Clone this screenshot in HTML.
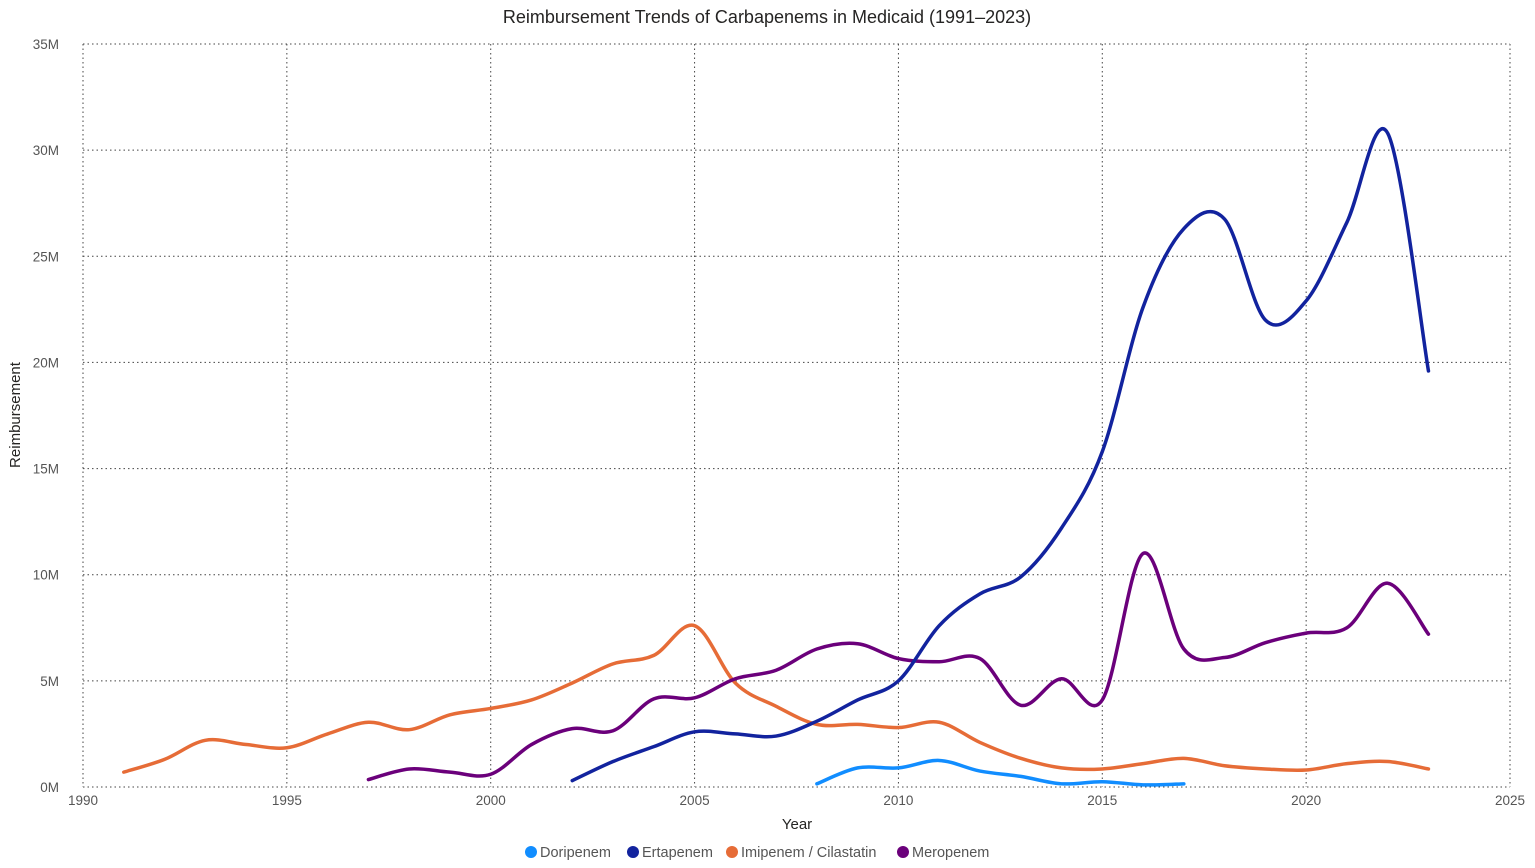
<!DOCTYPE html>
<html><head><meta charset="utf-8"><style>
html,body{margin:0;padding:0;background:#fff;}
svg{display:block;font-family:"Liberation Sans",sans-serif;}
</style></head><body>
<svg id="chart" width="1535" height="868">
<text x="767" y="23" text-anchor="middle" font-size="18" fill="#252423">Reimbursement Trends of Carbapenems in Medicaid (1991–2023)</text>
<g id="grid"></g><g id="ticks"></g><g id="lines"></g>
<text x="797" y="829" text-anchor="middle" font-size="15" fill="#252423">Year</text>
<text transform="translate(20,415) rotate(-90)" text-anchor="middle" font-size="15" fill="#252423">Reimbursement</text>
<g id="legend"></g>
</svg>
<script>
const seriesNames=["Doripenem","Ertapenem","Imipenem / Cilastatin","Meropenem"];
const seriesColors=["#118DFF","#12239E","#E66C37","#6B007B"];
const doriYears=[2008,2009,2010,2011,2012,2013,2014,2015,2016,2017];
const doriValues=[0.15,0.9,0.9,1.25,0.75,0.5,0.15,0.25,0.1,0.15];
const ertaYears=[2002,2003,2004,2005,2006,2007,2008,2009,2010,2011,2012,2013,2014,2015,2016,2017,2018,2019,2020,2021,2022,2023];
const ertaValues=[0.3,1.2,1.9,2.6,2.5,2.4,3.1,4.1,5.0,7.6,9.1,9.9,12.2,15.8,22.6,26.3,26.75,22.0,22.9,26.6,30.8,19.6];
const imiYears=[1991,1992,1993,1994,1995,1996,1997,1998,1999,2000,2001,2002,2003,2004,2005,2006,2007,2008,2009,2010,2011,2012,2013,2014,2015,2016,2017,2018,2019,2020,2021,2022,2023];
const imiValues=[0.7,1.3,2.2,2.0,1.85,2.5,3.05,2.7,3.4,3.7,4.1,4.9,5.8,6.2,7.6,4.9,3.8,2.95,2.95,2.8,3.05,2.1,1.35,0.9,0.85,1.1,1.35,1.0,0.85,0.8,1.1,1.2,0.85];
const meroYears=[1997,1998,1999,2000,2001,2002,2003,2004,2005,2006,2007,2008,2009,2010,2011,2012,2013,2014,2015,2016,2017,2018,2019,2020,2021,2022,2023];
const meroValues=[0.35,0.85,0.7,0.6,2.0,2.75,2.65,4.15,4.2,5.1,5.5,6.5,6.75,6.05,5.9,6.05,3.85,5.1,4.1,11.0,6.5,6.1,6.8,7.25,7.5,9.6,7.2];
const xTicks=[1990,1995,2000,2005,2010,2015,2020,2025];
const yTicks=[0,5,10,15,20,25,30,35];
const NS="http://www.w3.org/2000/svg";
const X0=83,X1=1510,Y0=787,Y1=44;
const xs=v=>X0+(v-1990)/35*(X1-X0);
const ys=v=>Y0-v/35*(Y0-Y1);
const grid=document.getElementById('grid'),ticks=document.getElementById('ticks');
yTicks.forEach(t=>{
 if(t>0){const l=document.createElementNS(NS,'line');
 
 
 l.setAttribute('x1',X0);l.setAttribute('x2',X1);l.setAttribute('y1',ys(t));l.setAttribute('y2',ys(t));
 l.setAttribute('stroke','#444');l.setAttribute('stroke-dasharray','1.5,3');grid.appendChild(l);}
 const tx=document.createElementNS(NS,'text');
 
 
 tx.setAttribute('x',59);tx.setAttribute('y',ys(t)+5);tx.setAttribute('text-anchor','end');tx.setAttribute('font-size','13.5');tx.setAttribute('fill','#555');
 tx.textContent=t+'M';ticks.appendChild(tx);
});
xTicks.forEach(t=>{
 const l=document.createElementNS(NS,'line');
 
 
 l.setAttribute('x1',xs(t));l.setAttribute('x2',xs(t));l.setAttribute('y1',Y1);l.setAttribute('y2',Y0);
 l.setAttribute('stroke','#444');l.setAttribute('stroke-dasharray','1.5,3');grid.appendChild(l);
 const tx=document.createElementNS(NS,'text');
 
 
 tx.setAttribute('x',xs(t));tx.setAttribute('y',805);tx.setAttribute('text-anchor','middle');tx.setAttribute('font-size','13.5');tx.setAttribute('fill','#555');
 tx.textContent=t;ticks.appendChild(tx);
});
const base=document.createElementNS(NS,'line');


base.setAttribute('x1',X0);base.setAttribute('x2',X1);base.setAttribute('y1',Y0);base.setAttribute('y2',Y0);
base.setAttribute('stroke','#444');base.setAttribute('stroke-dasharray','1.5,3');grid.appendChild(base);
function smooth(pts){
 let d='M'+pts[0][0]+','+pts[0][1];
 for(let i=0;i<pts.length-1;i++){
  const p0=pts[Math.max(0,i-1)],p1=pts[i],p2=pts[i+1],p3=pts[Math.min(pts.length-1,i+2)];
  const k=6;
  d+=' C'+(p1[0]+(p2[0]-p0[0])/k)+','+(p1[1]+(p2[1]-p0[1])/k)+' '+(p2[0]-(p3[0]-p1[0])/k)+','+(p2[1]-(p3[1]-p1[1])/k)+' '+p2[0]+','+p2[1];
 }
 return d;
}
const allYears=[doriYears,ertaYears,imiYears,meroYears],allVals=[doriValues,ertaValues,imiValues,meroValues];
const lines=document.getElementById('lines');
const order=[2,3,1,0];
order.forEach(i=>{
 const pts=allYears[i].map((y,j)=>[xs(y),ys(allVals[i][j])]);
 const p=document.createElementNS(NS,'path');
 
 
 p.setAttribute('d',smooth(pts));p.setAttribute('fill','none');p.setAttribute('stroke',seriesColors[i]);p.setAttribute('stroke-width','3.5');p.setAttribute('stroke-linejoin','round');p.setAttribute('stroke-linecap','round');
 lines.appendChild(p);
});
const leg=document.getElementById('legend');
const legX=[531,633,732,903];
seriesNames.forEach((n,i)=>{
 const g=document.createElementNS(NS,'g');
 
 
 const c=document.createElementNS(NS,'circle');
 c.setAttribute('cx',legX[i]);c.setAttribute('cy',852);c.setAttribute('r',6);c.setAttribute('fill',seriesColors[i]);
 const t=document.createElementNS(NS,'text');
 t.setAttribute('x',legX[i]+9);t.setAttribute('y',857);t.setAttribute('font-size','14.5');t.setAttribute('fill','#555');t.textContent=n;
 g.appendChild(c);g.appendChild(t);leg.appendChild(g);
});
</script>
</body></html>
